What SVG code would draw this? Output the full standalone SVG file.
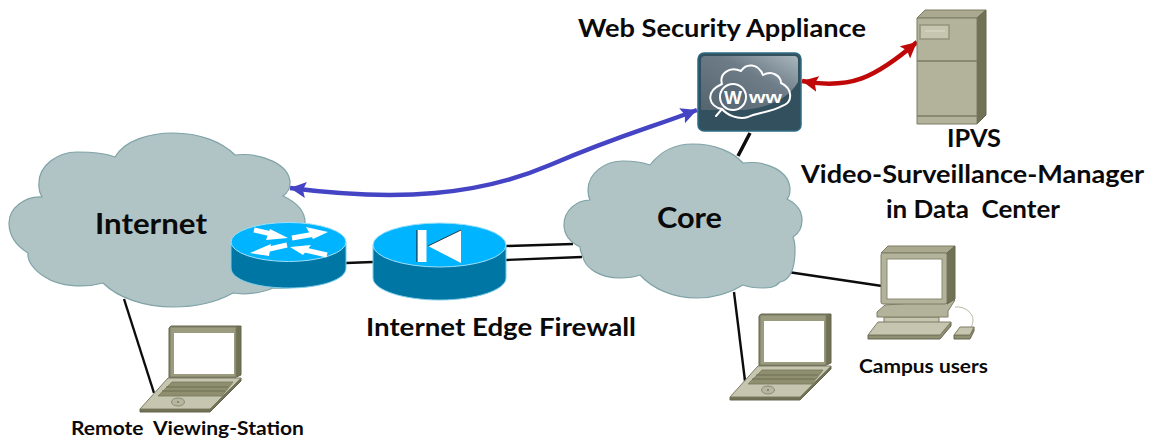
<svg xmlns="http://www.w3.org/2000/svg" width="1149" height="439" viewBox="0 0 1149 439">
  <style>
    .cloud { fill: #b0c4c6; stroke: #7fa3a6; stroke-width: 1.2; }
    .link { fill: none; stroke: #0c0c0c; stroke-width: 2.4; }
    .lbl { font-family: "Lato", "Noto Sans", sans-serif; font-weight: 700; fill: #0a0a0a; white-space: pre; }
    .dev { fill: #b3b29a; stroke: #7d7d65; stroke-width: 1; stroke-linejoin: round; }
    .devl { fill: #c6c5b0; stroke: #7d7d65; stroke-width: 1; stroke-linejoin: round; }
    .devd { fill: #717155; stroke: #666650; stroke-width: 1; stroke-linejoin: round; }
    .wh { fill: #ffffff; }
    .body { fill: #0076a5; stroke: #7fcdea; stroke-width: 1; }
    .top { fill: #00b4ff; stroke: #9fe0f8; stroke-width: 1; }
    .icon { fill: none; stroke: #ffffff; stroke-width: 2; stroke-linejoin: round; }
  </style>
  <defs>
    <linearGradient id="wsaGloss" x1="0" y1="1" x2="1" y2="0">
      <stop offset="0" stop-color="#55656f"/>
      <stop offset="0.6" stop-color="#6d7c87"/>
      <stop offset="1" stop-color="#a9b6bd"/>
    </linearGradient>
    <marker id="headBlue" markerUnits="userSpaceOnUse" markerWidth="18" markerHeight="18" refX="16" refY="8" orient="auto-start-reverse">
      <path d="M0,0 L16,8 L0,16 L3,8 Z" fill="#4444c4"/>
    </marker>
    <marker id="headRed" markerUnits="userSpaceOnUse" markerWidth="18" markerHeight="18" refX="16" refY="8" orient="auto-start-reverse">
      <path d="M0,0 L16,8 L0,16 L3,8 Z" fill="#c00808"/>
    </marker>
    <g id="laptopShape">
      <path class="devd" d="M169,328 L171,326 L241,326 L241,375 L234,378 L169,378 Z"/>
      <rect x="170" y="327" width="66" height="50" fill="#9b9b80" stroke="#7d7d65"/>
      <rect x="174" y="333" width="60" height="41" class="wh"/>
      <path class="devd" d="M140,409 L140,412 L210,412 L241,381 L241,378 L210,409 Z"/>
      <path class="devl" d="M140,409 L168,378 L241,378 L210,409 Z"/>
      <path d="M158,396 L172,382 L233,382 L222,396 Z" fill="#8f8f70" stroke="#77775c" stroke-width="0.8"/>
      <path d="M166,387 L228,387 M162,391 L225,391" stroke="#6d6d52" stroke-width="1" fill="none"/>
      <ellipse cx="178" cy="402" rx="6.500" ry="4" fill="#b7b69f" stroke="#8a8a72"/>
      <circle cx="178" cy="402" r="1" fill="#77775c"/>
    </g>
  </defs>

  <g id="connectors">
    <path class="link" d="M124,299 L154,393"/>
    <path class="link" d="M346,263 L373,262"/>
    <path class="link" d="M506,246 L573,244"/>
    <path class="link" d="M506,260 L582,257"/>
    <path class="link" style="stroke-width:3.500" d="M750,133 L738,156"/>
    <path class="link" d="M788,272 L882,286"/>
    <path class="link" d="M734,292 L745,381"/>
    <path d="M290,188 C400,202 480,195 550,165 S650,128 697,110" fill="none" stroke="#4444c4" stroke-width="4.500" marker-start="url(#headBlue)" marker-end="url(#headBlue)"/>
    <path d="M802,81 C850,90 875,78 917,42" fill="none" stroke="#c00808" stroke-width="4.500" marker-start="url(#headRed)" marker-end="url(#headRed)"/>
  </g>

  <g id="internet-cloud">
    <path class="cloud" d="M115,157 C125,140 150,133 173,133 C200,133 222,142 235,155 C262,152 290,165 290,183 C290,190 287,193 283,196 C298,203 306,213 305,225 L305,280 C295,290 285,288 273,288 C262,293 245,295 233,293 C215,303 195,307 173,307 C145,307 118,298 103,283 C85,288 60,287 45,277 C33,270 27,260 28,253 C15,245 9,235 9,223 C9,208 25,196 42,197 C38,190 39,183 39,183 C39,165 58,152 77,152 C92,152 105,153 115,157 Z"/>
    <text class="lbl" x="95" y="234" font-size="29" textLength="112" lengthAdjust="spacingAndGlyphs">Internet</text>
  </g>

  <g id="core-cloud">
    <path class="cloud" d="M650,165 C660,152 675,144 693,144 C715,144 733,152 743,163 C768,160 790,172 790,190 C790,194 789,197 787,199 C797,204 802,212 802,220 C802,228 798,234 793,237 C795,242 795,246 795,250 C795,268 790,280 780,282 C775,288 768,288 763,288 C755,288 748,287 743,285 C730,293 715,298 697,298 C672,298 652,288 640,275 C632,278 626,278 620,278 C600,278 585,268 583,257 C581,253 580,250 580,247 C570,242 564,235 564,225 C564,210 577,200 590,200 C588,196 588,193 588,190 C588,173 605,161 623,161 C632,161 642,162 650,165 Z"/>
    <text class="lbl" x="657" y="228" font-size="29" textLength="65" lengthAdjust="spacingAndGlyphs">Core</text>
  </g>

  <g id="router">
    <path class="body" d="M231,242 L231,268 C231,280 257,288 288.500,288 C320,288 346,280 346,268 L346,242 Z"/>
    <ellipse class="top" cx="288.500" cy="242" rx="57.500" ry="19.500"/>
    <path d="M254,230 L276,235 M292,238 L315,234 M287,245 L265,250 M327,255 L305,250" stroke="#ffffff" stroke-width="5" fill="none"/>
    <g class="wh">
      <path d="M270,229 L288,238 L266,240 Z"/>
      <path d="M306,227 L328,232 L313,239 Z"/>
      <path d="M271,244 L250,253 L269,256 Z"/>
      <path d="M311,245 L290,247 L303,255 Z"/>
    </g>
  </g>

  <g id="firewall">
    <path class="body" d="M373,245 L373,278 C373,290 403,300 439.500,300 C476,300 506,290 506,278 L506,245 Z"/>
    <ellipse class="top" cx="439.500" cy="245" rx="66.500" ry="22"/>
    <rect x="417" y="230" width="9.500" height="32" class="wh"/>
    <path d="M417,230 L417,262" stroke="#111111" stroke-width="1"/>
    <path d="M461,230 L428,246 L461,263 Z" class="wh"/>
    <path d="M461,230 L428,246" stroke="#111111" stroke-width="0.800"/>
    <text class="lbl" x="366" y="336" font-size="24.500" textLength="270" lengthAdjust="spacingAndGlyphs">Internet Edge Firewall</text>
  </g>

  <g id="wsa">
    <rect x="698" y="53" width="103" height="78" rx="6" fill="#33505f" stroke="#2f6b82" stroke-width="1.500"/>
    <path d="M701,60 Q701,56 705,56 L794,56 Q798,56 798,60 L798,82 Q785,105 745,110 L701,110 Z" fill="url(#wsaGloss)"/>
    <path class="icon" d="M722,84 C719,74 729,66 741,71 C746,63 758,63 763,75 C772,70 781,76 781,83 C792,88 794,102 782,106 C772,112 755,113 748,117 C738,120 727,115 722,109 L716,116 L722,109 C709,107 704,92 722,84 Z"/>
    <circle class="icon" cx="733" cy="97" r="13" style="fill:#5a6a76"/>
    <text x="733" y="104" font-family="Liberation Sans, sans-serif" font-weight="700" font-size="19" fill="#fff" text-anchor="middle">W</text>
    <text x="749" y="103" font-family="Liberation Sans, sans-serif" font-weight="700" font-size="17" fill="#fff" textLength="33" lengthAdjust="spacingAndGlyphs">ww</text>
    <text class="lbl" x="578" y="37" font-size="25.500" textLength="288" lengthAdjust="spacingAndGlyphs">Web Security Appliance</text>
  </g>

  <g id="server">
    <path class="devl" style="fill:#aaa98f" d="M917,18 L925,10 L986,10 L977,18 Z"/>
    <path class="devd" d="M977,18 L986,10 L986,115 L977,124 Z"/>
    <rect class="dev" x="917" y="18" width="60" height="106"/>
    <path d="M917,61 L977,61 M917,116 L977,116" stroke="#7d7d65" stroke-width="1.500"/>
    <rect x="920" y="25" width="29" height="14" fill="#c6c5b0" stroke="#94947c" stroke-width="1.500"/>
    <path d="M925,31 L945,31" stroke="#dcdccb" stroke-width="1"/>
    <text class="lbl" x="947" y="147" font-size="25.500" textLength="54" lengthAdjust="spacingAndGlyphs">IPVS</text>
    <text class="lbl" x="801" y="183" font-size="25.500" textLength="343" lengthAdjust="spacingAndGlyphs">Video-Surveillance-Manager</text>
    <text class="lbl" x="886" y="218" font-size="25.500" textLength="174" lengthAdjust="spacingAndGlyphs">in Data  Center</text>
  </g>

  <g id="remote-station">
    <use href="#laptopShape"/>
    <text class="lbl" x="71" y="435" font-size="18" textLength="233" lengthAdjust="spacingAndGlyphs">Remote  Viewing-Station</text>
  </g>

  <g id="campus-laptop">
    <use href="#laptopShape" transform="translate(590,-12)"/>
  </g>

  <g id="campus-pc">
    <path d="M955,307 C965,306 973,313 973,320 C973,323 972,325 971,327" fill="none" stroke="#b9b9a5" stroke-width="1"/>
    <path class="devl" d="M884,317 L939,317 L939,323 L884,323 Z"/>
    <path class="dev" d="M877,312 L885,305 L955,300 L948,311 L948,317 L877,317 Z"/>
    <path class="devl" style="fill:#aaa98f" d="M881,253 L888,246 L955,246 L947,253 Z"/>
    <path class="devd" d="M947,253 L955,246 L955,299 L947,304 Z"/>
    <rect class="dev" x="881" y="253" width="66" height="51" rx="2"/>
    <rect x="887" y="259" width="55" height="40" class="wh" stroke="#8a8a72" stroke-width="1"/>
    <path class="devd" style="fill:#8f8f72" d="M868,335 L868,339 L940,339 L951,326 L951,322 L940,335 Z"/>
    <path class="devl" d="M868,335 L878,322 L951,322 L940,335 Z"/>
    <path class="devd" style="fill:#8f8f72" d="M954,335 L954,339 L970,339 L974,331 L974,327 L970,335 Z"/>
    <path class="devl" d="M954,335 L960,327 L974,327 L970,335 Z"/>
    <text class="lbl" x="859" y="373" font-size="18.500" textLength="129" lengthAdjust="spacingAndGlyphs">Campus users</text>
  </g>
</svg>
